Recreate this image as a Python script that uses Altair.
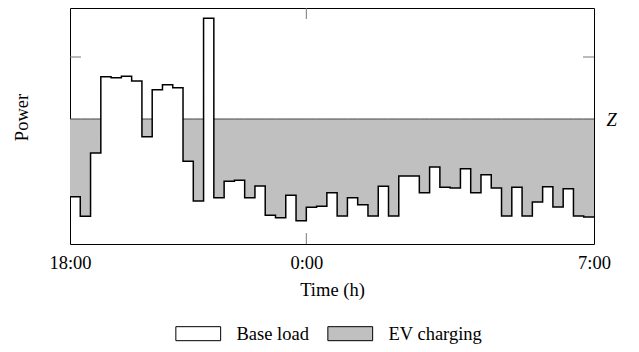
import altair as alt
import pandas as pd

# ---- data (15-min slots, 18:00 -> 7:00) ----
base_load = [47.3, 27.7, 91, 167.3, 166.3, 167.7, 163, 107.3, 154.3, 159.3,
             156.3, 82.7, 43, 225.7, 46.3, 62.7, 63.7, 46.3, 58, 28.7,
             26.3, 48.7, 23.3, 36.7, 37.7, 51.3, 28, 46.3, 39.3, 28,
             57.7, 28, 68, 68, 51.3, 77, 56.7, 56, 75.3, 51.3,
             69.3, 56, 28, 56.7, 28, 42, 57.3, 37, 55.3, 28, 27]
z_level = 125
x_tick_positions = [0, 23, 51]
x_tick_labels = ["18:00", "0:00", "7:00"]
y_tick_values = [187]
legend_names = ["Base load", "EV charging"]
legend_colors = ["white", "#c0c0c0"]

FONT = "Liberation Serif"
FS = 18.5
W, H = 524, 236

n = len(base_load)
slots = list(range(n)) + [n]
vals = base_load + [base_load[-1]]
df = pd.DataFrame({
    "slot": slots,
    "base": vals,
    "top": [max(v, z_level) for v in vals],
    "series": [legend_names[1]] * len(vals),
})
df_z = pd.DataFrame({
    "x": [i for i in range(n) if base_load[i] < z_level],
    "x2": [i + 1 for i in range(n) if base_load[i] < z_level],
    "z": [z_level for i in range(n) if base_load[i] < z_level],
})
df_xt = pd.DataFrame({"x": x_tick_positions[1:-1]})
df_yt = pd.DataFrame({"y": y_tick_values})

label_expr = " : ".join(
    f"datum.value == {p} ? '{l}'" for p, l in zip(x_tick_positions[:-1], x_tick_labels[:-1])
) + f" : '{x_tick_labels[-1]}'"

xscale = alt.Scale(domain=[0, n], nice=False, zero=False)
yscale = alt.Scale(domain=[0, H], nice=False, zero=True)

xaxis = alt.Axis(values=x_tick_positions, labelExpr=label_expr, title="Time (h)",
                 ticks=False, domain=False, grid=False, labelPadding=24,
                 labelBaseline="alphabetic", labelFlush=False, labelOverlap=False,
                 labelFont=FONT, labelFontSize=FS, labelColor="black",
                 titleFont=FONT, titleFontSize=FS, titleFontWeight="normal",
                 titleColor="black", titleY=51, titleBaseline="alphabetic")
yaxis = alt.Axis(title="Power", labels=False, ticks=False, domain=False, grid=False,
                 titleFont=FONT, titleFontSize=FS, titleFontWeight="normal",
                 titleColor="black", titleX=-43, titleY=109,
                 titleBaseline="alphabetic", titleAlign="center")

area = alt.Chart(df).mark_area(interpolate="step-after").encode(
    x=alt.X("slot:Q", scale=xscale, axis=xaxis),
    y=alt.Y("base:Q", scale=yscale, axis=yaxis),
    y2="top:Q",
    fill=alt.Fill(
        "series:N",
        scale=alt.Scale(domain=legend_names, range=legend_colors),
        legend=alt.Legend(
            title=None, orient="none", legendX=119, legendY=316.3,
            direction="horizontal", symbolType="M-3.2,-1H3.2V1H-3.2Z",
            symbolSize=196, symbolStrokeColor="black", symbolStrokeWidth=1,
            symbolOpacity=1, labelOffset=29, columnPadding=16,
            labelFont=FONT, labelFontSize=FS, labelColor="black",
        ),
    ),
)

zline = alt.Chart(df_z).mark_rule(color="#444444", strokeWidth=1).encode(
    x="x:Q", x2="x2:Q", y="z:Q"
)

line = alt.Chart(df).mark_line(interpolate="step-after", color="black",
                               strokeWidth=1.5).encode(x="slot:Q", y="base:Q")

xt_bottom = alt.Chart(df_xt).mark_rule(color="#777777", strokeWidth=1).encode(
    x="x:Q", y=alt.value(H), y2=alt.value(H - 11))
xt_top = alt.Chart(df_xt).mark_rule(color="#777777", strokeWidth=1).encode(
    x="x:Q", y=alt.value(0), y2=alt.value(11))
yt_left = alt.Chart(df_yt).mark_rule(color="#777777", strokeWidth=1).encode(
    y="y:Q", x=alt.value(0), x2=alt.value(11))
yt_right = alt.Chart(df_yt).mark_rule(color="#777777", strokeWidth=1).encode(
    y="y:Q", x=alt.value(W), x2=alt.value(W - 11))

ztext = alt.Chart(pd.DataFrame({"t": ["Z"]})).mark_text(
    font=FONT, fontSize=FS, fontStyle="italic", color="black",
    align="center", baseline="middle", dx=17.7, dy=1,
).encode(x=alt.datum(n), y=alt.datum(z_level), text="t:N")

chart = alt.layer(area, zline, line, xt_bottom, xt_top, yt_left, yt_right, ztext).properties(
    width=W, height=H,
    autosize=alt.AutoSizeParams(type="none"),
    padding={"left": 62, "top": 0, "right": 30, "bottom": 100},
).configure_view(stroke="black", strokeWidth=1)

chart.save("out.html", embed_options={"renderer": "svg", "actions": False})
